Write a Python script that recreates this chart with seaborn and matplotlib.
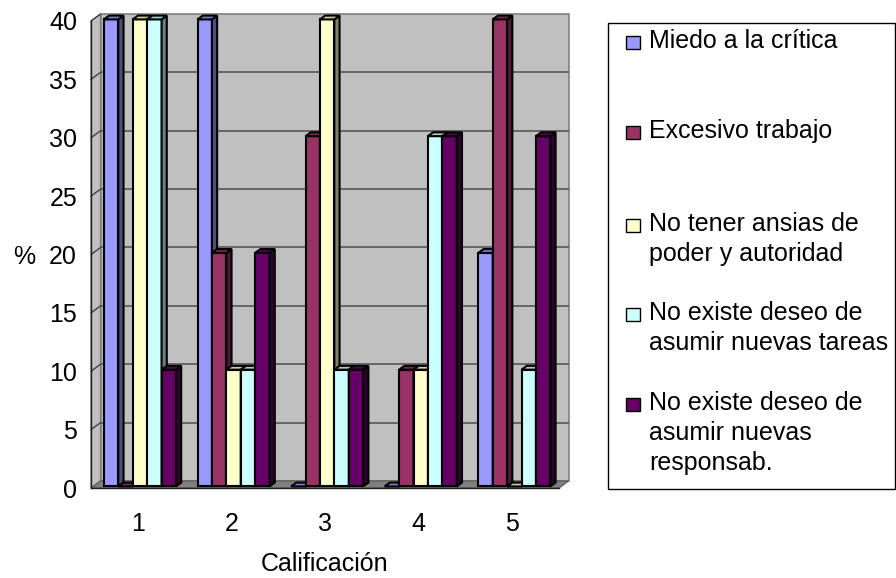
import numpy as np
import pandas as pd
import matplotlib
matplotlib.use("Agg")
import matplotlib.pyplot as plt
from matplotlib.patches import Polygon, Rectangle
from matplotlib.colors import to_rgb
import seaborn as sns

# ---- data -------------------------------------------------------------
categories = ["1", "2", "3", "4", "5"]
series = [
    "Miedo a la crítica",
    "Excesivo trabajo",
    "No tener ansias de\npoder y autoridad",
    "No existe deseo de\nasumir nuevas tareas",
    "No existe deseo de\nasumir nuevas\nresponsab.",
]
miedo = [40, 40, 0, 0, 20]
excesivo = [0, 20, 30, 10, 40]
ansias = [40, 10, 40, 10, 0]
tareas = [40, 10, 10, 30, 10]
responsab = [10, 20, 10, 30, 30]
colors = ["#9999FF", "#993366", "#FFFFCC", "#CCFFFF", "#660066"]
y_ticks = [0, 5, 10, 15, 20, 25, 30, 35, 40]

values = [miedo, excesivo, ansias, tareas, responsab]
df = pd.DataFrame(
    [(cat, name, v[i]) for name, v in zip(series, values) for i, cat in enumerate(categories)],
    columns=["Calificación", "serie", "valor"],
)

# ---- figure / axes ----------------------------------------------------
sns.set_style("white")
plt.rcParams["font.family"] = ["Liberation Sans", "DejaVu Sans"]
plt.rcParams["text.color"] = "black"
plt.rcParams["axes.labelcolor"] = "black"
plt.rcParams["xtick.color"] = "black"
plt.rcParams["ytick.color"] = "black"
FS = 18

W, H = 896, 578
fig = plt.figure(figsize=(W / 100, H / 100), dpi=100)
AX_L, AX_R, AX_T, AX_B = 91, 559, 21, 488
ax = fig.add_axes([AX_L / W, (H - AX_B) / H, (AX_R - AX_L) / W, (AX_B - AX_T) / H])
ax.set_xlim(-0.5, len(categories) - 0.5)
ax.set_ylim(0, 40)
ax.patch.set_visible(False)

# depth of the 3-D box in data units
px_x = (AX_R - AX_L) / len(categories)
px_y = (AX_B - AX_T) / 40.0
DX, DY = 9.5 / px_x, 7.0 / px_y
BAR_DEPTH = 0.55
ddx, ddy = DX * BAR_DEPTH, DY * BAR_DEPTH
sx, sy = (DX - ddx) / 2, (DY - ddy) / 2

x0, x1 = -0.5, len(categories) - 0.5
wall = "#C0C0C0"
grid = "#666666"
EDGE = 1.5

# back wall
ax.add_patch(Rectangle((x0 + DX, DY), x1 - x0, 40, facecolor=wall,
                       edgecolor="#808080", lw=1.2, zorder=0.5, clip_on=False))
for t in y_ticks[1:-1]:
    ax.plot([x0 + DX, x1 + DX], [t + DY, t + DY], color=grid, lw=1.4,
            zorder=0.6, clip_on=False, solid_capstyle="butt")
# left side wall
ax.add_patch(Polygon([(x0, 0), (x0 + DX, DY), (x0 + DX, 40 + DY), (x0, 40)],
                     closed=True, facecolor=wall, edgecolor="#808080", lw=1.0,
                     zorder=0.55, clip_on=False))
for t in y_ticks[1:]:
    ax.plot([x0, x0 + DX], [t, t + DY], color="#404040", lw=1.0,
            zorder=0.65, clip_on=False)
# floor
ax.add_patch(Polygon([(x0, 0), (x1, 0), (x1 + DX, DY), (x0 + DX, DY)],
                     closed=True, facecolor="#808080", edgecolor="#606060", lw=1.0,
                     zorder=0.7, clip_on=False))

# ---- bars ---------------------------------------------------------------
sns.barplot(data=df, x="Calificación", y="valor", hue="serie", order=categories,
            hue_order=series, palette=colors, saturation=1, width=0.77,
            edgecolor="black", linewidth=EDGE, legend=False, ax=ax)

bars = sorted([p for p in ax.patches if isinstance(p, Rectangle) and p.get_width() < 0.5],
              key=lambda p: p.get_x())
for rank, p in enumerate(bars):
    base = to_rgb(p.get_facecolor())
    x, w, h = p.get_x() + sx, p.get_width(), p.get_height()
    z = 3 + rank * 0.1
    p.set_x(x)
    p.set_y(sy)
    p.set_zorder(z)
    p.set_clip_on(False)
    top = h + sy
    side_c = tuple(c * 0.5 for c in base)
    top_c = tuple(c * 0.8 for c in base)
    if h > 0:
        ax.add_patch(Polygon([(x + w, sy), (x + w + ddx, sy + ddy), (x + w + ddx, top + ddy), (x + w, top)],
                             closed=True, facecolor=side_c, edgecolor="black", lw=EDGE,
                             joinstyle="miter", zorder=z + 0.05, clip_on=False))
    ax.add_patch(Polygon([(x, top), (x + w, top), (x + w + ddx, top + ddy), (x + ddx, top + ddy)],
                         closed=True, facecolor=top_c, edgecolor="black", lw=EDGE,
                         joinstyle="miter", zorder=z + 0.05, clip_on=False))

# ---- axes decoration ----------------------------------------------------
for s in ["top", "right"]:
    ax.spines[s].set_visible(False)
for s in ["left", "bottom"]:
    ax.spines[s].set_color("#202020")
    ax.spines[s].set_linewidth(1.0)
    ax.spines[s].set_zorder(10)

ax.set_yticks(y_ticks)
ax.set_yticklabels([str(t) for t in y_ticks], fontsize=FS)
ax.tick_params(axis="y", direction="out", length=6, width=1.0, pad=4,
               color="#404040", labelcolor="black")

ax.set_xticks(range(len(categories)))
ax.set_xticklabels(categories, fontsize=FS)
ax.set_xticks(np.arange(-0.5, len(categories)), minor=True)
ax.tick_params(axis="x", which="major", length=0, pad=17, labelcolor="black")
ax.tick_params(axis="x", which="minor", direction="out", length=6, width=1.0, color="#404040")

ax.set_xlabel("Calificación", fontsize=FS)
ax.xaxis.set_label_coords(0.5, -0.162)
ax.set_ylabel("%", fontsize=FS, rotation=0)
ax.yaxis.set_label_coords(-0.143, 0.495)
ax.yaxis.label.set_va("center")
ax.xaxis.label.set_va("center")

# ---- legend --------------------------------------------------------------
def fx(px):
    return px / W

def fy(py):
    return 1 - py / H

fig.add_artist(Rectangle((fx(608), fy(489)), fx(895) - fx(608), (489 - 23) / H,
                         transform=fig.transFigure, facecolor="white",
                         edgecolor="black", lw=1.0))
first_baselines = [48, 138, 231, 320, 410]
LINE = 30
for name, col, b in zip(series, colors, first_baselines):
    fig.add_artist(Rectangle((fx(626), fy(b + 1)), 14 / W, 13 / H,
                             transform=fig.transFigure, facecolor=col,
                             edgecolor="black", lw=1.0))
    for k, line in enumerate(name.split("\n")):
        fig.text(fx(649), fy(b + k * LINE), line, fontsize=FS, ha="left",
                 va="baseline", color="black")

fig.savefig("out.png", dpi=100)
